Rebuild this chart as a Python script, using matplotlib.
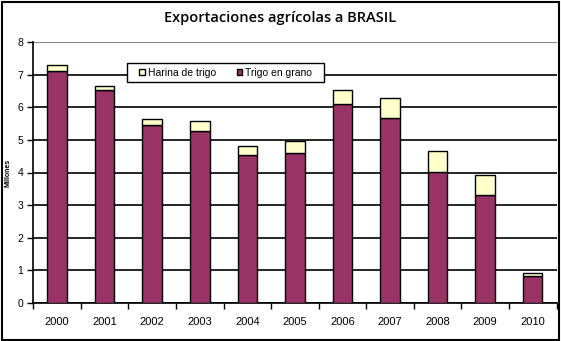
import matplotlib
matplotlib.use("Agg")
import matplotlib.pyplot as plt
from matplotlib.patches import Rectangle
import numpy as np

years = ["2000", "2001", "2002", "2003", "2004", "2005", "2006", "2007", "2008", "2009", "2010"]
trigo_grano = [7.12, 6.53, 5.45, 5.28, 4.53, 4.59, 6.11, 5.67, 4.02, 3.32, 0.83]
harina_trigo = [0.17, 0.13, 0.19, 0.30, 0.29, 0.37, 0.43, 0.61, 0.63, 0.59, 0.08]

plt.rcParams['font.family'] = ['Liberation Sans', 'DejaVu Sans']

fig = plt.figure(figsize=(5.61, 3.41), dpi=100)
L, R, B, T = 33.3, 556.5, 303, 42
ax = fig.add_axes([L/561, 1-B/341, (R-L)/561, (B-T)/341])

x = np.arange(len(years))
w = 0.41
ax.bar(x, trigo_grano, w, color='#993366', edgecolor='black', linewidth=1.0,
       label='Trigo en grano', zorder=3)
ax.bar(x, harina_trigo, w, bottom=trigo_grano, color='#FFFFCC', edgecolor='black',
       linewidth=1.0, label='Harina de trigo', zorder=3)

ax.set_xlim(-0.5, len(years)-0.5)
ax.set_ylim(0, 8)
ax.set_yticks(range(0, 9))
ax.set_xticks(x)
ax.set_xticklabels(years, fontsize=8)
ax.tick_params(axis='x', length=0, pad=10)
ax.set_xticks(np.arange(-0.5, len(years)), minor=True)
ax.tick_params(axis='x', which='minor', length=4, width=1, direction='out')
ax.tick_params(axis='y', labelsize=7.5, length=4, width=1, direction='out', pad=3)
ax.yaxis.grid(True, color='black', linewidth=1.2, zorder=0)
gl = ax.yaxis.get_gridlines()
gl[-1].set_color('#888888')
gl[-1].set_linewidth(0.8)
ax.set_axisbelow(True)
for s in ['top', 'right']:
    ax.spines[s].set_visible(False)
ax.spines['left'].set_linewidth(1.2)
ax.spines['bottom'].set_linewidth(1.2)
ax.set_ylabel('Millones', fontsize=5, fontweight='bold')
ax.yaxis.set_label_coords((11-L)/(R-L), 0.5)

# legend frame
lx0, lx1, ly0, ly1 = 127, 324, 63, 82
ax.add_patch(Rectangle((lx0/561, 1-ly1/341), (lx1-lx0)/561, (ly1-ly0)/341,
                       transform=fig.transFigure, facecolor='white', edgecolor='black',
                       linewidth=1.0, clip_on=False, zorder=4))
handles, labels = ax.get_legend_handles_labels()
leg = ax.legend(handles[::-1], labels[::-1], ncol=2,
                prop={'size': 7.5},
                loc='center', bbox_to_anchor=((lx0+lx1)/2/561, 1-(ly0+ly1)/2/341),
                bbox_transform=fig.transFigure, frameon=False,
                handlelength=0.55, handleheight=0.55,
                columnspacing=2.0, handletextpad=0.25, borderpad=0.3)
leg.set_zorder(5)

fig.text(0.5, 1-18/341, 'Exportaciones agrícolas a BRASIL', ha='center', va='center',
         fontsize=10.5, fontweight='semibold', family=['Open Sans', 'DejaVu Sans'])

fig.patches.append(Rectangle((0.003, 0.004), 0.993, 0.991, transform=fig.transFigure,
                             fill=False, edgecolor='black', linewidth=1.5))

fig.savefig('out.png', dpi=100)
